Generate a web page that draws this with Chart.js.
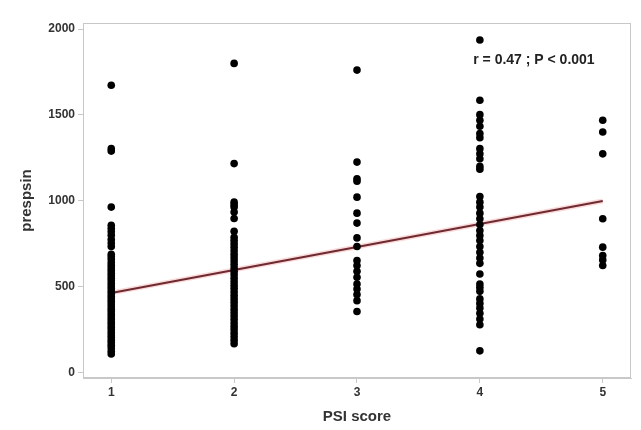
<!DOCTYPE html>
<html>
<head>
<meta charset="utf-8">
<script src="https://cdn.jsdelivr.net/npm/chart.js@4.4.1/dist/chart.umd.min.js"></script>
<style>
  html, body { margin: 0; padding: 0; background: #fff; }
  #wrap { width: 641px; height: 430px; position: relative; }
</style>
</head>
<body>
<div id="wrap"><canvas id="chart"></canvas></div>
<script>
// PSI score groups and presepsin values
const psiScores = [1, 2, 3, 4, 5]
const psi1Values = [1673, 1304, 1290, 964, 858, 840, 820, 800, 775, 755, 735, 690, 675, 660, 640, 625, 610, 595, 580, 565, 550, 535, 520, 505, 490, 475, 460, 445, 430, 415, 400, 385, 370, 355, 340, 325, 310, 295, 280, 265, 250, 235, 220, 205, 190, 175, 160, 145, 125, 110]
const psi2Values = [1800, 1217, 993, 978, 964, 935, 898, 824, 789, 770, 750, 730, 710, 690, 670, 650, 630, 610, 590, 570, 550, 530, 510, 490, 470, 450, 430, 410, 390, 370, 350, 330, 310, 290, 270, 250, 230, 210, 190, 169]
const psi3Values = [1761, 1226, 1129, 1115, 1022, 929, 871, 785, 735, 653, 624, 591, 556, 517, 488, 455, 420, 357]
const psi4Values = [1936, 1586, 1502, 1469, 1434, 1392, 1368, 1304, 1274, 1245, 1201, 1185, 1026, 993, 964, 929, 896, 863, 828, 799, 770, 735, 701, 668, 637, 575, 517, 497, 474, 430, 404, 377, 346, 313, 280, 128]
const psi5Values = [1469, 1401, 1274, 896, 731, 682, 657, 624]
const groupValues = [psi1Values, psi2Values, psi3Values, psi4Values, psi5Values]

// regression line end points
const fitX = [1, 5]
const fitY = [465, 1000]

const xTicks = [1, 2, 3, 4, 5]
const yTicks = [0, 500, 1000, 1500, 2000]
const statText = "r = 0.47 ; P < 0.001"

const scatterPoints = []
psiScores.forEach((score, i) => {
  groupValues[i].forEach((v) => scatterPoints.push({ x: score, y: v }))
})
const fitPoints = fitX.map((x, i) => ({ x: x, y: fitY[i] }))

const frameAndLabel = {
  id: "frameAndLabel",
  afterDraw(chart) {
    const { ctx, chartArea, scales } = chart
    ctx.save()
    ctx.strokeStyle = "#c8c8c8"
    ctx.lineWidth = 1
    ctx.strokeRect(chartArea.left + 0.5, chartArea.top + 0.5, chartArea.width - 1, chartArea.height - 1)
    ctx.fillStyle = "#222"
    ctx.font = "bold 14px 'Liberation Sans', Arial, sans-serif"
    ctx.textAlign = "center"
    ctx.textBaseline = "middle"
    ctx.fillText(statText, scales.x.getPixelForValue(4.44), scales.y.getPixelForValue(1819))
    ctx.restore()
  },
}

const tickFont = { family: "'Liberation Sans', Arial, sans-serif", size: 12, weight: "bold" }

new Chart(document.getElementById("chart"), {
  type: "scatter",
  data: {
    datasets: [
      {
        type: "line",
        data: fitPoints,
        borderColor: "rgba(240,150,150,0.35)",
        borderWidth: 5,
        pointRadius: 0,
        order: 3,
      },
      {
        type: "line",
        data: fitPoints,
        borderColor: "#6e2a30",
        borderWidth: 2,
        pointRadius: 0,
        order: 2,
      },
      {
        data: scatterPoints,
        backgroundColor: "#000",
        borderColor: "#000",
        pointRadius: 3.8,
        borderWidth: 0,
        order: 1,
      },
    ],
  },
  options: {
    responsive: true,
    maintainAspectRatio: false,
    animation: false,
    layout: { padding: { left: 0, right: 10, top: 23, bottom: 0 } },
    plugins: { legend: { display: false }, tooltip: { enabled: false } },
    scales: {
      x: {
        type: "linear",
        min: 0.77,
        max: 5.23,
        afterBuildTicks: (scale) => { scale.ticks = xTicks.map((v) => ({ value: v })) },
        afterFit: (scale) => { scale.height = 52 },
        ticks: { color: "#333", font: tickFont, padding: 2, callback: (v) => String(v) },
        grid: { drawOnChartArea: false, drawTicks: true, tickLength: 5, color: "#c8c8c8" },
        border: { color: "#c8c8c8" },
        title: { display: true, text: "PSI score", color: "#333", font: { family: "'Liberation Sans', Arial, sans-serif", size: 15, weight: "bold" }, padding: { top: 0, bottom: 4 } },
      },
      y: {
        type: "linear",
        min: -30,
        max: 2035,
        afterBuildTicks: (scale) => { scale.ticks = yTicks.map((v) => ({ value: v })) },
        afterFit: (scale) => { scale.width = 83 },
        ticks: { color: "#333", font: tickFont, padding: 3, callback: (v) => String(v) },
        grid: { drawOnChartArea: false, drawTicks: true, tickLength: 5, color: "#c8c8c8" },
        border: { color: "#c8c8c8" },
        title: { display: true, text: "prespsin", color: "#333", font: { family: "'Liberation Sans', Arial, sans-serif", size: 15, weight: "bold" }, padding: { top: 18, bottom: 0 } },
      },
    },
  },
  plugins: [frameAndLabel],
})
</script>
</body>
</html>
